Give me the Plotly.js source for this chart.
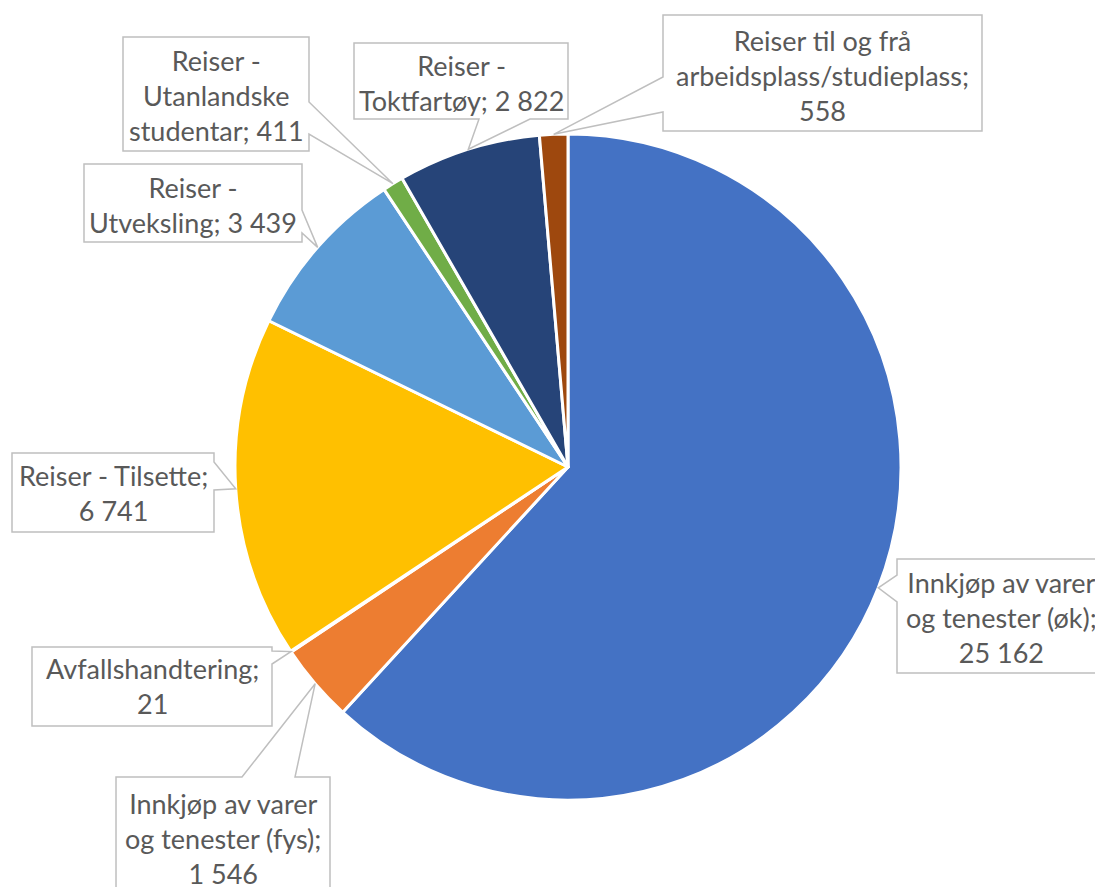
<!DOCTYPE html>
<html>
<head>
<meta charset="utf-8">
<script src="https://cdn.plot.ly/plotly-3.0.1.min.js"></script>
<style>html,body{margin:0;padding:0;background:#fff;}#chart{width:1095px;height:887px;}</style>
</head>
<body>
<div id="chart"></div>
<script>
// ---- data ----
const categories = [
  "Innkjøp av varer og tenester (øk)",
  "Innkjøp av varer og tenester (fys)",
  "Avfallshandtering",
  "Reiser - Tilsette",
  "Reiser - Utveksling",
  "Reiser - Utanlandske studentar",
  "Reiser - Toktfartøy",
  "Reiser til og frå arbeidsplass/studieplass"
];
const values = [25162, 1546, 21, 6741, 3439, 411, 2822, 558];
const colors = ["#4472C4", "#ED7D31", "#A5A5A5", "#FFC000", "#5B9BD5", "#70AD47", "#264478", "#9E480E"];

// ---- layout (pixels) ----
const W = 1095, H = 887;
const CX = 568, CY = 467, R = 333;
// callout boxes: [x0, y0, x1, y1], wedge side, wedge base a, b, wrap width (chars)
const boxes = [
  [897, 559, 1110, 673], [116, 777, 330, 905], [32, 647, 272, 726], [12, 453, 214, 532],
  [84, 164, 302, 242], [123, 37, 309, 151], [354, 43, 568, 119], [663, 15, 982, 131]
];
const wedgeSide = ["left", "top", "right", "right", "right", "right", "bottom", "left"];
const wedgeBase = [[575, 602], [242, 295], [651, 664], [462, 490], [210, 233], [102, 134], [479, 530], [77, 112]];
const wrapWidth = [17, 18, 18, 18, 17, 14, 17, 25];
const textCenter = [[1001, 617], [223, 838], [152, 686], [113, 493], [193, 205], [216, 95], [461, 83], [822, 75]];

function fmt(v) {
  return String(v).replace(/\B(?=(\d{3})+(?!\d))/g, "\u00a0");
}
function wrap(text, width) {
  const words = text.split(" ");
  const lines = [];
  let cur = "";
  for (const w of words) {
    if (cur === "") cur = w;
    else if ((cur + " " + w).length <= width) cur += " " + w;
    else { lines.push(cur); cur = w; }
  }
  if (cur) lines.push(cur);
  return lines.join("<br>");
}
const px = x => x / W;
const py = y => 1 - y / H;

const total = values.reduce((a, b) => a + b, 0);
let cum = 0;
const tips = values.map(v => {
  const mid = (cum + v / 2) / total * 2 * Math.PI;
  cum += v;
  return [CX + R * Math.sin(mid), CY - R * Math.cos(mid)];
});

const shapes = [], annotations = [];
categories.forEach((c, i) => {
  const [x0, y0, x1, y1] = boxes[i];
  const [a, b] = wedgeBase[i];
  const t = tips[i];
  let pts = [];
  const side = wedgeSide[i];
  pts.push([x0, y0]);
  if (side === "top") pts.push([a, y0], t, [b, y0]);
  pts.push([x1, y0]);
  if (side === "right") pts.push([x1, a], t, [x1, b]);
  pts.push([x1, y1]);
  if (side === "bottom") pts.push([b, y1], t, [a, y1]);
  pts.push([x0, y1]);
  if (side === "left") pts.push([x0, b], t, [x0, a]);
  const path = "M " + pts.map(p => px(p[0]).toFixed(5) + "," + py(p[1]).toFixed(5)).join(" L ") + " Z";
  shapes.push({
    type: "path", xref: "paper", yref: "paper", path: path,
    fillcolor: "#ffffff", line: {color: "#BFBFBF", width: 1.5}, layer: "above"
  });
  annotations.push({
    xref: "paper", yref: "paper",
    x: px(textCenter[i][0]), y: py(textCenter[i][1]),
    xanchor: "center", yanchor: "middle", showarrow: false, align: "center",
    text: wrap(c + "; " + fmt(values[i]), wrapWidth[i]),
    font: {family: "Lato, 'Open Sans', sans-serif", size: 27, color: "#595959"}
  });
});

const trace = {
  type: "pie",
  labels: categories,
  values: values,
  sort: false,
  direction: "clockwise",
  rotation: 0,
  textinfo: "none",
  hoverinfo: "label+value",
  marker: {colors: colors, line: {color: "#ffffff", width: 3}},
  domain: {x: [px(CX - R), px(CX + R)], y: [py(CY + R), py(CY - R)]},
  showlegend: false
};

const layout = {
  width: W, height: H,
  margin: {l: 0, r: 0, t: 0, b: 0},
  paper_bgcolor: "#ffffff",
  plot_bgcolor: "#ffffff",
  showlegend: false,
  shapes: shapes,
  annotations: annotations
};

Plotly.newPlot("chart", [trace], layout, {displayModeBar: false, staticPlot: true});
</script>
</body>
</html>
